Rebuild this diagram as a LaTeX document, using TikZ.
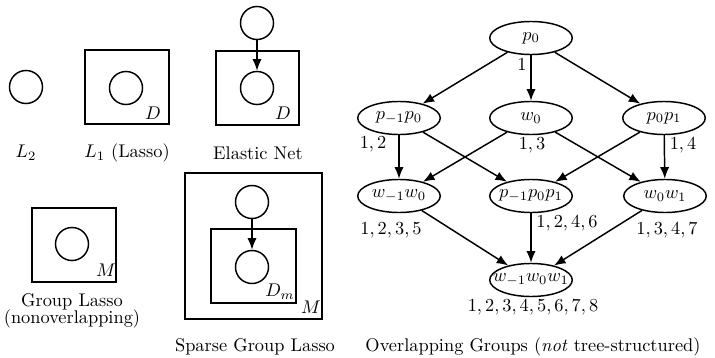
\documentclass[tikz,border=0pt]{standalone}
\usetikzlibrary{arrows.meta,shapes.geometric}
\begin{document}
\begin{tikzpicture}[x=0.545pt,y=-0.545pt,
  lw/.style={line width=0.8pt},
  var/.style={circle,draw,lw,minimum size=18pt,inner sep=0pt},
  plate/.style={draw,lw},
  grp/.style={ellipse,draw,lw,minimum width=45pt,minimum height=18pt,inner sep=0pt},
  arr/.style={lw,-{Latex[length=6.3pt,width=5pt]}},
  lab/.style={inner sep=0pt},
]
\useasboundingbox (0,0) rectangle (715,358);

% L2
\node[var] (l2) at (26,87) {};
\node[lab] (l2lab) at (26,153) {$L_2$};

% L1
\draw[plate] (85,50) rectangle (169,124);
\node[var] (l1) at (126,88) {};
\node[lab] (l1d) at (153,113) {$D$};
\node[lab] (l1lab) at (127,153) {$L_1$ (Lasso)};

% Elastic net
\node[var] (ent) at (257,23) {};
\draw[plate] (216,51) rectangle (299,125);
\node[var] (enb) at (257,88) {};
\draw[arr] (ent) -- (enb);
\node[lab] (end) at (283,113) {$D$};
\node[lab] (enlab) at (258,153) {Elastic Net};

% Group lasso
\draw[plate] (32,208) rectangle (116,282);
\node[var] (gl) at (72,244) {};
\node[lab] (glm) at (106,270) {$M$};
\node[lab] (gllab1) at (72,302) {Group Lasso};
\node[lab] (gllab2) at (72,319) {(nonoverlapping)};

% Sparse group lasso
\draw[plate] (185,173) rectangle (322,319);
\draw[plate] (211,229) rectangle (296,303);
\node[var] (sgt) at (252,202) {};
\node[var] (sgb) at (252,267) {};
\draw[arr] (sgt) -- (sgb);
\node[lab] (sgd) at (280,292) {$D_m$};
\node[lab] (sgm) at (311,307) {$M$};
\node[lab] (sglab) at (255,347) {Sparse Group Lasso};

% Overlapping groups
\node[grp] (p0) at (531,38) {$p_0$};
\node[grp] (pm) at (399,118) {\makebox[0pt]{$p_{-1}p_0$}};
\node[grp] (w0) at (531,118) {$w_0$};
\node[grp] (pp) at (664,118) {$p_0p_1$};
\node[grp] (wm) at (399,196) {\makebox[0pt]{$w_{-1}w_0$}};
\node[grp] (ppp) at (531,196) {\makebox[0pt]{$p_{-1}p_0p_1$}};
\node[grp] (wp) at (665,196) {$w_0w_1$};
\node[grp] (www) at (531,280) {\makebox[0pt]{$w_{-1}w_0w_1$}};

\draw[arr] (p0) -- (pm);
\draw[arr] (p0) -- (w0);
\draw[arr] (p0) -- (pp);
\draw[arr] (pm) -- (wm);
\draw[arr] (pm) -- (ppp);
\draw[arr] (w0) -- (wm);
\draw[arr] (w0) -- (wp);
\draw[arr] (pp) -- (ppp);
\draw[arr] (pp) -- (wp);
\draw[arr] (wm) -- (www);
\draw[arr] (ppp) -- (www);
\draw[arr] (wp) -- (www);

\node[lab] (g1) at (522,65) {$1$};
\node[lab] (g12) at (373,144) {$1,2$};
\node[lab] (g13) at (532,145) {$1,3$};
\node[lab] (g14) at (683,145) {$1,4$};
\node[lab] (g1235) at (391,230) {$1,2,3,5$};
\node[lab] (g1246) at (567,223) {$1,2,4,6$};
\node[lab] (g1347) at (667,230) {$1,3,4,7$};
\node[lab] (gall) at (533,307) {$1,2,3,4,5,6,7,8$};
\node[lab] (oglab) at (533,347) {Overlapping Groups (\textit{not} tree-structured)};
\end{tikzpicture}
\end{document}
